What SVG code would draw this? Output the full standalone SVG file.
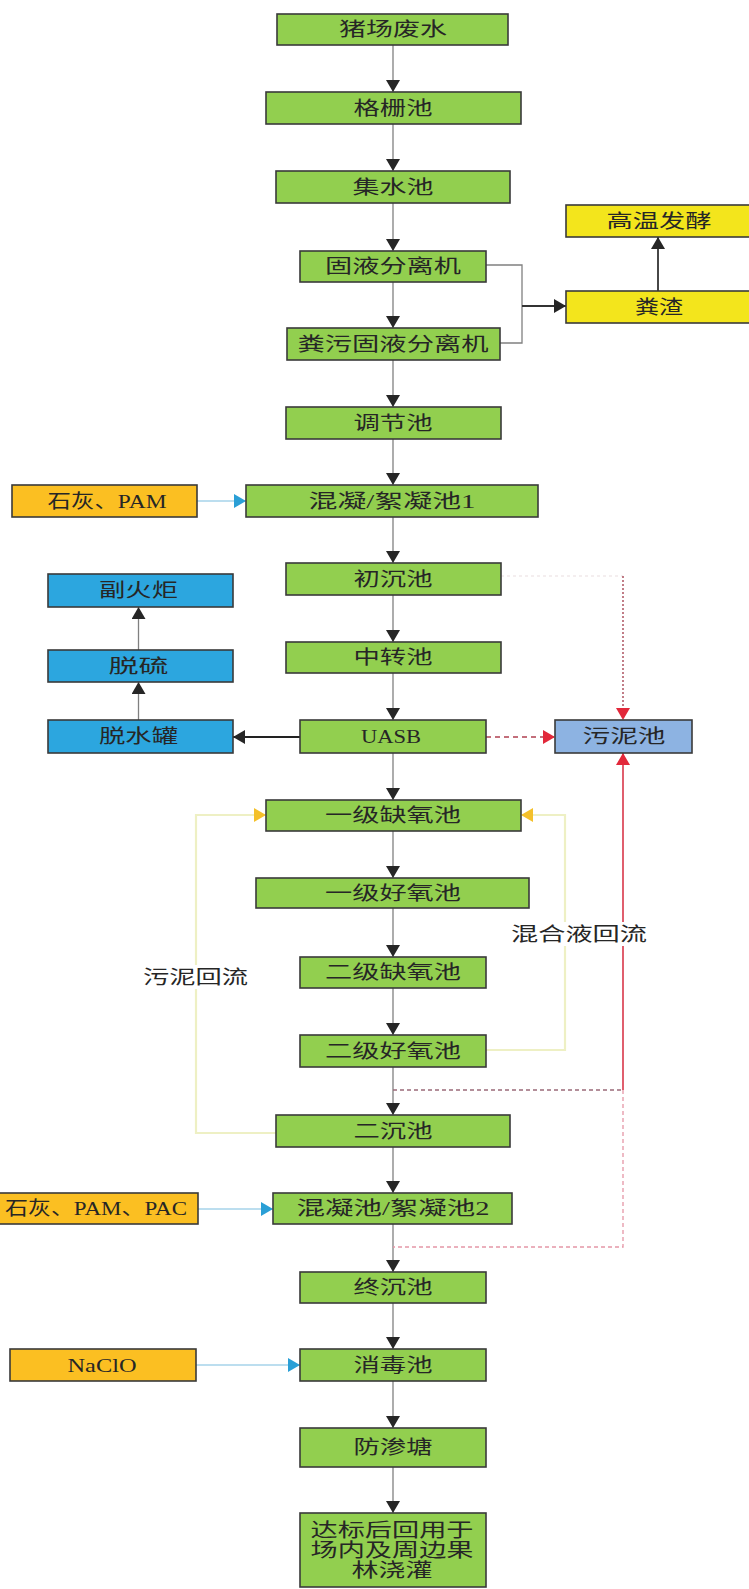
<svg xmlns="http://www.w3.org/2000/svg" width="749" height="1589" viewBox="0 0 749 1589">
<style>
.bx{stroke:#3a3a3a;stroke-width:1.6}
.g{fill:#92cf4f}
.y{fill:#f3e51c}
.o{fill:#fbbf22}
.b{fill:#2ca6df}
.lb{fill:#8db3e2}
.t{font-family:"Liberation Serif","Noto Sans CJK SC",serif;font-size:19px;fill:#262626;text-anchor:middle;dominant-baseline:central}
.main{stroke:#808080;stroke-width:1.3;fill:none}
.blk{stroke:#333;stroke-width:1.8;fill:none}
.yl{stroke:#eef0c4;stroke-width:2.2;fill:none}
.bl{stroke:#a6d3ea;stroke-width:1.6;fill:none}
</style>
<defs>
<marker id="ak" viewBox="0 0 12 14" refX="12" refY="7" markerWidth="12" markerHeight="14" markerUnits="userSpaceOnUse" orient="auto"><path d="M0,0 L12,7 L0,14 z" fill="#262626"/></marker>
<marker id="ar" viewBox="0 0 12 14" refX="12" refY="7" markerWidth="12" markerHeight="14" markerUnits="userSpaceOnUse" orient="auto"><path d="M0,0 L12,7 L0,14 z" fill="#e2283a"/></marker>
<marker id="ay" viewBox="0 0 12 14" refX="12" refY="7" markerWidth="12" markerHeight="14" markerUnits="userSpaceOnUse" orient="auto"><path d="M0,0 L12,7 L0,14 z" fill="#f4c02a"/></marker>
<marker id="ab" viewBox="0 0 12 14" refX="12" refY="7" markerWidth="12" markerHeight="14" markerUnits="userSpaceOnUse" orient="auto"><path d="M0,0 L12,7 L0,14 z" fill="#2a9fd6"/></marker>
</defs>
<rect width="749" height="1589" fill="#fff"/>
<g id="connectors">
<g class="main" marker-end="url(#ak)">
<line x1="393" y1="45" x2="393" y2="92"/>
<line x1="393" y1="124" x2="393" y2="171"/>
<line x1="393" y1="203" x2="393" y2="251"/>
<line x1="393" y1="282" x2="393" y2="328"/>
<line x1="393" y1="360" x2="393" y2="407"/>
<line x1="393" y1="439" x2="393" y2="485"/>
<line x1="393" y1="517" x2="393" y2="563"/>
<line x1="393" y1="595" x2="393" y2="642"/>
<line x1="393" y1="673" x2="393" y2="720"/>
<line x1="393" y1="753" x2="393" y2="800"/>
<line x1="393" y1="831" x2="393" y2="878"/>
<line x1="393" y1="908" x2="393" y2="957"/>
<line x1="393" y1="988" x2="393" y2="1035"/>
<line x1="393" y1="1067" x2="393" y2="1115"/>
<line x1="393" y1="1147" x2="393" y2="1193"/>
<line x1="393" y1="1224" x2="393" y2="1272"/>
<line x1="393" y1="1303" x2="393" y2="1349"/>
<line x1="393" y1="1381" x2="393" y2="1428"/>
<line x1="393" y1="1467" x2="393" y2="1513"/>
<line x1="138.5" y1="720" x2="138.5" y2="682"/>
<line x1="138.5" y1="650" x2="138.5" y2="607"/>
</g>
<polyline class="main" points="486,265 522,265 522,343 500,343"/>
<line class="blk" x1="522" y1="306" x2="566" y2="306" marker-end="url(#ak)"/>
<line class="blk" x1="658" y1="291" x2="658" y2="237" marker-end="url(#ak)"/>
<line stroke="#222" stroke-width="2.2" x1="300" y1="737" x2="233" y2="737" marker-end="url(#ak)"/>
<line stroke="#b04050" stroke-width="1.6" stroke-dasharray="5,4" x1="486" y1="737" x2="555" y2="737" marker-end="url(#ar)"/>
<path d="M501,576H623" stroke="#eadde0" stroke-width="1.2" stroke-dasharray="3,3" fill="none"/>
<line stroke="#a03848" stroke-width="1.3" stroke-dasharray="2,2" x1="623" y1="576" x2="623" y2="720" marker-end="url(#ar)"/>
<line stroke="#d9364a" stroke-width="1.6" x1="623" y1="1090" x2="623" y2="753" marker-end="url(#ar)"/>
<path d="M393,1090H623" stroke="#9a6a78" stroke-width="1.3" stroke-dasharray="4,3" fill="none"/>
<path d="M623,1090V1247H393" stroke="#e596a6" stroke-width="1.3" stroke-dasharray="4,3" fill="none"/>
<path class="yl" d="M276,1133H196V815H266" marker-end="url(#ay)"/>
<path class="yl" d="M486,1050H565V815H521" marker-end="url(#ay)"/>
<line class="bl" x1="197" y1="501" x2="246" y2="501" marker-end="url(#ab)"/>
<line class="bl" x1="198" y1="1209" x2="273" y2="1209" marker-end="url(#ab)"/>
<line class="bl" x1="196" y1="1365" x2="300" y2="1365" marker-end="url(#ab)"/>
</g>
<g id="label-sludge-return"><rect x="145" y="965" width="102" height="24" fill="#fff"/><text class="t" x="195.5" y="977" textLength="105" lengthAdjust="spacingAndGlyphs">污泥回流</text></g>
<g id="label-mix-return"><rect x="512" y="922" width="134" height="24" fill="#fff"/><text class="t" x="579" y="934" textLength="136" lengthAdjust="spacingAndGlyphs">混合液回流</text></g>
<g id="n1"><rect class="bx g" x="277" y="14" width="231" height="31"/><text class="t" x="393" y="29.5" textLength="108" lengthAdjust="spacingAndGlyphs">猪场废水</text></g>
<g id="n2"><rect class="bx g" x="266" y="92" width="255" height="32"/><text class="t" x="393" y="108" textLength="79" lengthAdjust="spacingAndGlyphs">格栅池</text></g>
<g id="n3"><rect class="bx g" x="276" y="171" width="234" height="32"/><text class="t" x="393" y="187" textLength="81" lengthAdjust="spacingAndGlyphs">集水池</text></g>
<g id="n4"><rect class="bx g" x="300" y="251" width="186" height="31"/><text class="t" x="393" y="266.5" textLength="136" lengthAdjust="spacingAndGlyphs">固液分离机</text></g>
<g id="n5"><rect class="bx g" x="287" y="328" width="213" height="32"/><text class="t" x="393" y="344" textLength="191" lengthAdjust="spacingAndGlyphs">粪污固液分离机</text></g>
<g id="n-ferment"><rect class="bx y" x="566" y="205" width="190" height="32"/><text class="t" x="659" y="221" textLength="105" lengthAdjust="spacingAndGlyphs">高温发酵</text></g>
<g id="n-residue"><rect class="bx y" x="566" y="291" width="190" height="32"/><text class="t" x="659" y="307" textLength="48" lengthAdjust="spacingAndGlyphs">粪渣</text></g>
<g id="n6"><rect class="bx g" x="286" y="407" width="215" height="32"/><text class="t" x="393" y="423" textLength="79" lengthAdjust="spacingAndGlyphs">调节池</text></g>
<g id="n-lime1"><rect class="bx o" x="12" y="485" width="185" height="32"/><text class="t" x="107" y="501" textLength="119" lengthAdjust="spacingAndGlyphs">石灰、PAM</text></g>
<g id="n7"><rect class="bx g" x="246" y="485" width="292" height="32"/><text class="t" x="392" y="501" textLength="167" lengthAdjust="spacingAndGlyphs">混凝/絮凝池1</text></g>
<g id="n8"><rect class="bx g" x="286" y="563" width="215" height="32"/><text class="t" x="393" y="579" textLength="79" lengthAdjust="spacingAndGlyphs">初沉池</text></g>
<g id="n-flare"><rect class="bx b" x="48" y="574" width="185" height="33"/><text class="t" x="138.5" y="590.5" textLength="79" lengthAdjust="spacingAndGlyphs">副火炬</text></g>
<g id="n9"><rect class="bx g" x="286" y="642" width="215" height="31"/><text class="t" x="393" y="657.5" textLength="79" lengthAdjust="spacingAndGlyphs">中转池</text></g>
<g id="n-desulf"><rect class="bx b" x="48" y="650" width="185" height="32"/><text class="t" x="138.5" y="666" textLength="60" lengthAdjust="spacingAndGlyphs">脱硫</text></g>
<g id="n10"><rect class="bx g" x="300" y="720" width="186" height="33"/><text class="t" x="391" y="736.5" textLength="60" lengthAdjust="spacingAndGlyphs">UASB</text></g>
<g id="n-dewater"><rect class="bx b" x="48" y="720" width="185" height="33"/><text class="t" x="138.5" y="736.5" textLength="79" lengthAdjust="spacingAndGlyphs">脱水罐</text></g>
<g id="n-sludge"><rect class="bx lb" x="555" y="720" width="137" height="33"/><text class="t" x="624" y="736.5" textLength="83" lengthAdjust="spacingAndGlyphs">污泥池</text></g>
<g id="n11"><rect class="bx g" x="266" y="800" width="255" height="31"/><text class="t" x="393" y="815.5" textLength="136" lengthAdjust="spacingAndGlyphs">一级缺氧池</text></g>
<g id="n12"><rect class="bx g" x="256" y="878" width="273" height="30"/><text class="t" x="393" y="893" textLength="136" lengthAdjust="spacingAndGlyphs">一级好氧池</text></g>
<g id="n13"><rect class="bx g" x="300" y="957" width="186" height="31"/><text class="t" x="393" y="972.5" textLength="136" lengthAdjust="spacingAndGlyphs">二级缺氧池</text></g>
<g id="n14"><rect class="bx g" x="300" y="1035" width="186" height="32"/><text class="t" x="393" y="1051" textLength="136" lengthAdjust="spacingAndGlyphs">二级好氧池</text></g>
<g id="n15"><rect class="bx g" x="276" y="1115" width="234" height="32"/><text class="t" x="393" y="1131" textLength="79" lengthAdjust="spacingAndGlyphs">二沉池</text></g>
<g id="n-lime2"><rect class="bx o" x="-4" y="1193" width="202" height="31"/><text class="t" x="96" y="1208.5" textLength="182" lengthAdjust="spacingAndGlyphs">石灰、PAM、PAC</text></g>
<g id="n16"><rect class="bx g" x="273" y="1193" width="239" height="31"/><text class="t" x="393" y="1208.5" textLength="193" lengthAdjust="spacingAndGlyphs">混凝池/絮凝池2</text></g>
<g id="n17"><rect class="bx g" x="300" y="1272" width="186" height="31"/><text class="t" x="393" y="1287.5" textLength="79" lengthAdjust="spacingAndGlyphs">终沉池</text></g>
<g id="n-naclo"><rect class="bx o" x="10" y="1349" width="186" height="32"/><text class="t" x="102" y="1365" textLength="69" lengthAdjust="spacingAndGlyphs">NaClO</text></g>
<g id="n18"><rect class="bx g" x="300" y="1349" width="186" height="32"/><text class="t" x="393" y="1365" textLength="79" lengthAdjust="spacingAndGlyphs">消毒池</text></g>
<g id="n19"><rect class="bx g" x="300" y="1428" width="186" height="39"/><text class="t" x="393" y="1447.5" textLength="79" lengthAdjust="spacingAndGlyphs">防渗塘</text></g>
<g id="n20"><rect class="bx g" x="300" y="1513" width="186" height="74"/><text class="t" x="392" y="1530" textLength="163" lengthAdjust="spacingAndGlyphs">达标后回用于</text><text class="t" x="392" y="1550" textLength="163" lengthAdjust="spacingAndGlyphs">场内及周边果</text><text class="t" x="392" y="1570.5" textLength="81" lengthAdjust="spacingAndGlyphs">林浇灌</text></g>
</svg>
